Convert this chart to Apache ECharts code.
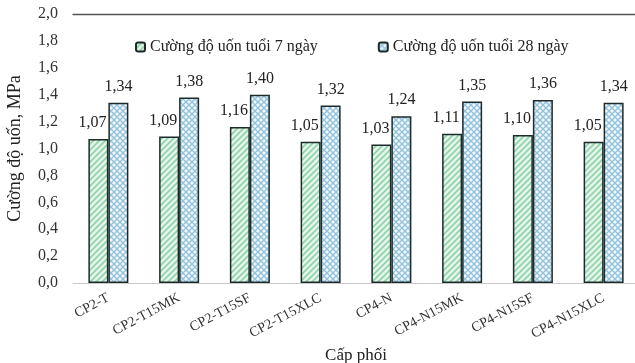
<!DOCTYPE html>
<html><head><meta charset="utf-8">
<script src="https://cdn.jsdelivr.net/npm/echarts@6/dist/echarts.min.js"></script>
<style>html,body{margin:0;padding:0;background:#fff}#c{width:635px;height:363px}</style>
</head><body><div id="c"></div>
<script>
const categories = ['CP2-T','CP2-T15MK','CP2-T15SF','CP2-T15XLC','CP4-N','CP4-N15MK','CP4-N15SF','CP4-N15XLC'];
const seriesNames = ['Cường độ uốn tuổi 7 ngày','Cường độ uốn tuổi 28 ngày'];
const day7 = [1.07,1.09,1.16,1.05,1.03,1.11,1.10,1.05];
const day28 = [1.34,1.38,1.40,1.32,1.24,1.35,1.36,1.34];
const yTicks = {min:0, max:2.0, interval:0.2};
const xName = 'Cấp phối';
const yName = 'Cường độ uốn, MPa';

function greenPattern(){
  const c=document.createElement('canvas');c.width=6;c.height=6;
  const g=c.getContext('2d');
  g.fillStyle='#e4f5ea';g.fillRect(0,0,6,6);
  g.strokeStyle='#8fd3aa';g.lineWidth=1.6;
  g.beginPath();
  g.moveTo(-1,7);g.lineTo(7,-1);
  g.moveTo(-4,4);g.lineTo(4,-4);
  g.moveTo(2,10);g.lineTo(10,2);
  g.stroke();
  return c;
}
function bluePattern(){
  const c=document.createElement('canvas');c.width=6;c.height=6;
  const g=c.getContext('2d');
  g.fillStyle='#f2f8fc';g.fillRect(0,0,6,6);
  g.strokeStyle='#92c2dc';g.lineWidth=1.4;
  g.beginPath();
  g.moveTo(0,0);g.lineTo(6,6);
  g.moveTo(6,0);g.lineTo(0,6);
  g.stroke();
  return c;
}
const fmt = v => v.toFixed(2).replace('.',',');
const font = '"Liberation Serif","Times New Roman",serif';
const chart = echarts.init(document.getElementById('c'));
chart.setOption({
  animation:false,
  textStyle:{fontFamily:font},
  grid:{left:73, top:14, width:566, bottom:80, containLabel:false, outerBoundsMode:'none'},
  legend:{left:130, top:34, itemWidth:9, itemHeight:9, itemGap:60,
    textStyle:{fontFamily:font, fontSize:16, color:'#222'},
    data:seriesNames},
  xAxis:[{type:'category', data:categories, name:xName, nameLocation:'middle', nameGap:58,
    nameTextStyle:{fontFamily:font, fontSize:17, color:'#222'},
    axisLine:{lineStyle:{color:'#c8c8c8', width:1}}, axisTick:{show:false},
    axisLabel:{rotate:28, margin:14, fontFamily:font, fontSize:14, color:'#333', interval:0}},
   {type:'category', data:categories, position:'top',
    axisLine:{show:true, lineStyle:{color:'#555', width:1.3}}, axisTick:{show:false}, axisLabel:{show:false}}],
  yAxis:{type:'value', min:yTicks.min, max:yTicks.max, interval:yTicks.interval,
    name:yName, nameLocation:'middle', nameGap:49,
    nameTextStyle:{fontFamily:font, fontSize:18, color:'#222'},
    axisLine:{show:false}, axisTick:{show:false}, splitLine:{show:false},
    axisLabel:{formatter:v=>v.toFixed(1).replace('.',','), fontFamily:font, fontSize:16, color:'#333', margin:15}},
  series:[
    {name:seriesNames[0], type:'bar', data:day7, barWidth:20, barGap:'0%',
     itemStyle:{color:{image:greenPattern(), repeat:'repeat'}, borderColor:'#1d2b2b', borderWidth:1.5},
     label:{show:true, position:'top', distance:8, offset:[-6,0], formatter:p=>fmt(p.value),
       fontFamily:font, fontSize:16, color:'#222'}},
    {name:seriesNames[1], type:'bar', data:day28, barWidth:20, barGap:'0%',
     itemStyle:{color:{image:bluePattern(), repeat:'repeat'}, borderColor:'#1d2b2b', borderWidth:1.5},
     label:{show:true, position:'top', distance:8, formatter:p=>fmt(p.value),
       fontFamily:font, fontSize:16, color:'#222'}}
  ]
});
</script></body></html>
